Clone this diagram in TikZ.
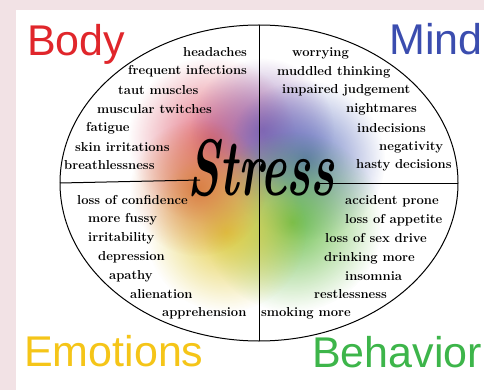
\documentclass[tikz,border=0pt]{standalone}
\usepackage{fontspec}
\newfontfamily\cornerfont{Liberation Sans}
\usepackage{xcolor}
\usepackage{tikz}
\usetikzlibrary{shapes.geometric,fadings}
\definecolor{framepink}{RGB}{242, 226, 229}
\definecolor{bodyred}{RGB}{224, 38, 43}
\definecolor{mindblue}{RGB}{59, 77, 175}
\definecolor{emoyellow}{RGB}{245, 197, 24}
\definecolor{behgreen}{RGB}{61, 181, 74}
\definecolor{wheelred}{RGB}{222, 85, 105}
\definecolor{wheelpurple}{RGB}{140, 95, 175}
\definecolor{wheelblue}{RGB}{80, 100, 185}
\definecolor{wheelgreen}{RGB}{95, 185, 60}
\definecolor{wheelyellow}{RGB}{225, 200, 50}
\definecolor{wheelorange}{RGB}{215, 120, 60}
\tikzfading[name=wheelfade, inner color=transparent!0, outer color=transparent!100]

\begin{document}
\begin{tikzpicture}[x=1pt, y=-1pt,
    item/.style={font=\bfseries\fontsize{13}{15}\selectfont, inner sep=0pt, anchor=west},
    corner/.style={font=\cornerfont\fontsize{43}{45}\selectfont, inner sep=0pt, anchor=base west},
    blob/.style={path fading=wheelfade, fill opacity=0.9}]
            \useasboundingbox (0,0) rectangle (484,390);
            % Frame and page
            \fill[framepink] (0,0) rectangle (484,390);
            \fill[white] (16,10) rectangle (484,390);

            % Colour wheel behind the word
            \fill[wheelred, blob] (212,140) circle (84);
            \fill[wheelpurple, blob] (262,130) circle (72);
            \fill[wheelblue, blob] (305,160) circle (80);
            \fill[wheelgreen, blob] (292,222) circle (90);
            \fill[wheelyellow, blob] (226,232) circle (80);
            \fill[wheelorange, blob] (198,188) circle (68);

            % Oval split into four
            \node[ellipse, draw, line width=1pt, minimum width=398pt, minimum height=316pt,
                  inner sep=0pt, outer sep=0pt] (oval) at (259,183) {};
            \coordinate (leftend) at (200,180);
            \coordinate (rightstart) at (318,183);
            \draw[line width=1pt] (oval.north) -- (oval.south);
            \draw[line width=1pt] (oval.west) -- (leftend);
            \draw[line width=1pt] (rightstart) -- (oval.east |- rightstart);

            \node[font=\bfseries\itshape\fontsize{80}{82}\selectfont, xscale=0.62,
                  inner sep=0pt, anchor=base] (stress) at (261,195) {Stress};

            % Body
            \node[item] (headaches) at (183,52) {headaches};
            \node[item] (infections) at (128,71) {frequent infections};
            \node[item] (taut) at (118,90) {taut muscles};
            \node[item] (twitches) at (97,109) {muscular twitches};
            \node[item] (fatigue) at (86,128) {fatigue};
            \node[item] (skin) at (75,147) {skin irritations};
            \node[item] (breath) at (64,165) {breathlessness};

            % Mind
            \node[item] (worrying) at (292,53) {worrying};
            \node[item] (muddled) at (277,72) {muddled thinking};
            \node[item] (impaired) at (282,90) {impaired judgement};
            \node[item] (nightmares) at (346,109) {nightmares};
            \node[item] (indecisions) at (357,128) {indecisions};
            \node[item] (negativity) at (379,147) {negativity};
            \node[item] (hasty) at (356,165) {hasty decisions};

            % Emotions
            \node[item] (confidence) at (77,200) {loss of confidence};
            \node[item] (fussy) at (88,219) {more fussy};
            \node[item] (irritability) at (88,238) {irritability};
            \node[item] (depression) at (98,257) {depression};
            \node[item] (apathy) at (109,276) {apathy};
            \node[item] (alienation) at (130,294) {alienation};
            \node[item] (apprehension) at (162,313) {apprehension};

            % Behavior
            \node[item] (accident) at (345,201) {accident prone};
            \node[item] (appetite) at (345,220) {loss of appetite};
            \node[item] (sexdrive) at (325,238) {loss of sex drive};
            \node[item] (drinking) at (324,258) {drinking more};
            \node[item] (insomnia) at (345,276) {insomnia};
            \node[item] (restless) at (314,294) {restlessness};
            \node[item] (smoking) at (261,313) {smoking more};

            % Corner titles
            \node[corner, bodyred] (body) at (27,56) {Body};
            \node[corner, mindblue] (mind) at (389,55) {Mind};
            \node[corner, emoyellow] (emotions) at (24,366) {Emotions};
            \node[corner, behgreen] (behavior) at (312,367) {Behavior};
        \end{tikzpicture}
\end{document}
